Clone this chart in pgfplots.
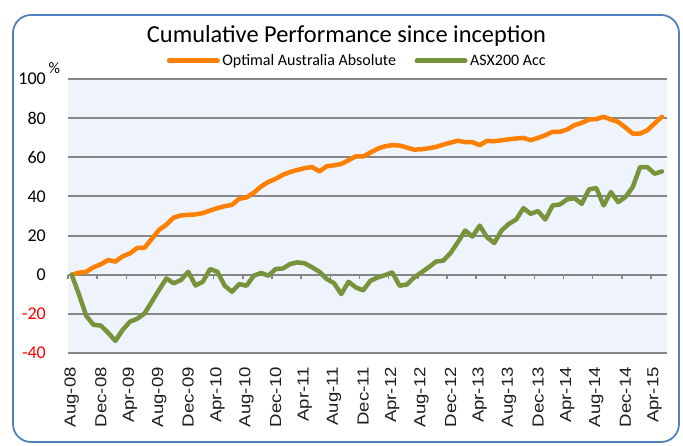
\documentclass[border=0pt]{standalone}
\usepackage{pgfplots}
\pgfplotsset{compat=1.18}
\usepackage{fontspec}
\setmainfont{Carlito}
\newfontfamily\arialf[FakeStretch=1.16]{Liberation Sans}
\definecolor{orangeS}{RGB}{255,128,0}
\definecolor{greenS}{RGB}{119,147,60}
\definecolor{plotbg}{RGB}{239,243,251}
\definecolor{gridc}{RGB}{134,134,134}
\definecolor{boxc}{RGB}{79,129,189}
\definecolor{labc}{RGB}{30,30,30}
\begin{document}
\begin{tikzpicture}[x=1pt,y=1pt]
\useasboundingbox (0,0) rectangle (683,445);
\fill[white] (0,0) rectangle (683,445);
\draw[boxc, line width=1.8pt, rounded corners=18pt] (13,3) rectangle (679,430);
\node[anchor=base, font=\fontsize{24.4}{28}\selectfont] at (346.5,402) {Cumulative Performance since inception};
\node[anchor=west, font=\fontsize{16}{17}\selectfont, inner sep=0pt] at (48.5,377) {\%};
\begin{axis}[
  at={(68pt,92pt)}, anchor=south west,
  scale only axis, width=599pt, height=274pt,
  xmin=-0.5, xmax=81.7, ymin=-40, ymax=100,
  axis background/.style={fill=plotbg},
  axis line style={draw=none},
  major tick length=0pt,
  ytick={-40,-20,0,20,40,60,80,100},
  yticklabels={\textcolor{red}{-40},\textcolor{red}{-20},0,20,40,60,80,100},
  yticklabel style={font=\fontsize{18}{20}\selectfont, anchor=east, inner sep=0pt, xshift=-22pt},
  xtick={0,4,...,80},
  xticklabels={Aug-08,Dec-08,Apr-09,Aug-09,Dec-09,Apr-10,Aug-10,Dec-10,Apr-11,Aug-11,Dec-11,Apr-12,Aug-12,Dec-12,Apr-13,Aug-13,Dec-13,Apr-14,Aug-14,Dec-14,Apr-15},
  xticklabel style={font=\arialf\fontsize{16}{17}\selectfont, text=labc, rotate=90, anchor=east, inner sep=0pt},
  xticklabel shift=14pt,
  ymajorgrids, grid style={gridc, line width=2pt},
  clip=false,
  legend columns=2,
  legend style={at={(0.4833,1.0657)}, anchor=center, draw=none, fill=none, inner sep=0pt,
     font=\fontsize{16}{18}\selectfont, nodes={inner sep=2.5pt},
     /tikz/every even column/.append style={column sep=16pt}},
  legend image code/.code={\draw[#1, line width=5pt, line cap=round] (2.5pt,0pt) -- (50.5pt,0pt);},
]
\pgfplotsinvokeforeach{-0.5,3.5,...,79.5}{\draw[gridc, line width=1.5pt] (axis cs:#1,0) -- ++(0pt,-4pt);}
\addplot[orangeS, line width=4.5pt, line join=round, line cap=round] coordinates {
(0,0) (1,1) (2,1.5) (3,3.8) (4,5.3) (5,7.5) (6,6.7) (7,9.4) (8,10.9) (9,13.7)
(10,13.8) (11,18.3) (12,22.9) (13,25.6) (14,29.2) (15,30.3) (16,30.6) (17,30.8) (18,31.5) (19,32.8)
(20,34) (21,35) (22,35.7) (23,38.8) (24,39.5) (25,41.9) (26,45.1) (27,47.4) (28,49) (29,51.1)
(30,52.5) (31,53.5) (32,54.5) (33,55) (34,52.8) (35,55.4) (36,55.9) (37,56.6) (38,58.5) (39,60.5)
(40,60.4) (41,62.4) (42,64.4) (43,65.6) (44,66.2) (45,66) (46,65) (47,63.9) (48,64.1) (49,64.6)
(50,65.3) (51,66.5) (52,67.5) (53,68.5) (54,67.7) (55,67.7) (56,66.2) (57,68.4) (58,68.2) (59,68.7)
(60,69.2) (61,69.6) (62,69.9) (63,68.7) (64,69.9) (65,71.3) (66,73) (67,73) (68,74.2) (69,76.4)
(70,77.6) (71,79.3) (72,79.5) (73,80.7) (74,79.3) (75,78.1) (76,75.2) (77,72.1) (78,72.1) (79,73.8)
(80,77.3) (81,80.7)
};
\addlegendentry{Optimal Australia Absolute}
\addplot[greenS, line width=4.5pt, line join=round, line cap=round] coordinates {
(0,0) (1,-10) (2,-21) (3,-25.6) (4,-26) (5,-29.6) (6,-33.8) (7,-28.2) (8,-24) (9,-22.5)
(10,-19.8) (11,-13.8) (12,-7.7) (13,-1.9) (14,-4.4) (15,-2.7) (16,1.5) (17,-5.5) (18,-3.6) (19,2.9)
(20,1.5) (21,-5.6) (22,-8.7) (23,-4.8) (24,-5.6) (25,-0.5) (26,0.9) (27,-0.5) (28,2.9) (29,3.2)
(30,5.5) (31,6.3) (32,5.8) (33,3.8) (34,1.5) (35,-2.2) (36,-4.3) (37,-9.9) (38,-3.6) (39,-6.5)
(40,-8) (41,-3.1) (42,-1.4) (43,-0.2) (44,1.2) (45,-5.6) (46,-5) (47,-1.4) (48,1.2) (49,3.8)
(50,6.7) (51,7.2) (52,11.1) (53,16.6) (54,22.6) (55,19.5) (56,25.1) (57,19.1) (58,16.2) (59,22.6)
(60,26) (61,28.2) (62,34) (63,31.1) (64,32.5) (65,28.2) (66,35.4) (67,35.9) (68,38.5) (69,39.1)
(70,36.2) (71,43.6) (72,44.3) (73,35.4) (74,42.2) (75,37.1) (76,39.7) (77,44.8) (78,55) (79,55)
(80,51.6) (81,52.8)
};
\addlegendentry{ASX200 Acc}
\end{axis}
\end{tikzpicture}
\end{document}
